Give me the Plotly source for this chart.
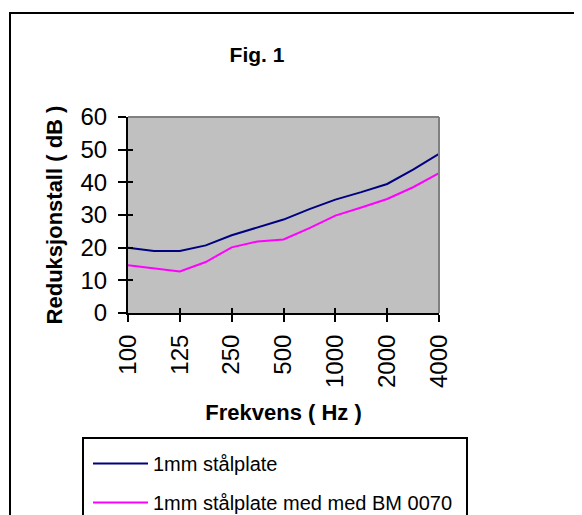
import plotly.graph_objects as go

# categories (13 points, labelled every second one)
freq_labels = ["100", "125", "250", "500", "1000", "2000", "4000"]
point_index = [0, 1, 2, 3, 4, 5, 6, 7, 8, 9, 10, 11, 12]
label_index = [0, 2, 4, 6, 8, 10, 12]

steel = [20, 19, 19, 20.7, 23.8, 26.2, 28.6, 31.8, 34.7, 37, 39.5, 43.9, 48.7]
steel_bm = [14.6, 13.6, 12.7, 15.6, 20.1, 21.9, 22.5, 26, 29.8, 32.3, 34.9, 38.5, 42.8]

y_ticks = [0, 10, 20, 30, 40, 50, 60]

FONT = "Liberation Sans, Arial, sans-serif"

fig = go.Figure()
fig.add_trace(go.Scatter(x=point_index, y=steel, mode="lines", name="1mm stålplate",
                         line=dict(color="#000080", width=2), legendgroup="a"))
fig.add_trace(go.Scatter(x=point_index, y=steel_bm, mode="lines",
                         name="1mm stålplate med med BM 0070",
                         line=dict(color="#FF00FF", width=2), legendgroup="b"))

OFF = 8  # page body margin
W, H = 582, 515
L, R, T, B = 128 - OFF, 439 - OFF, 117 - OFF, 313 - OFF
pw, ph = R - L, B - T

def px(x):
    return (x - OFF - L) / pw

def py(y):
    return (B - (y - OFF)) / ph

fig.update_layout(
    width=W, height=H,
    margin=dict(l=L, r=W - R, t=T, b=H - B, autoexpand=False),
    paper_bgcolor="white",
    plot_bgcolor="#C0C0C0",
    font=dict(family=FONT, color="black"),
    title=dict(text="<b>Fig. 1</b>", x=(257 - OFF) / W, xanchor="center",
               y=1 - (55 - OFF) / H, yanchor="middle",
               font=dict(size=21, family=FONT)),
    showlegend=True,
    legend=dict(x=px(88), y=py(444), xanchor="left", yanchor="top",
                font=dict(size=20, family=FONT), tracegroupgap=10,
                bgcolor="rgba(0,0,0,0)", borderwidth=0, itemwidth=55),
    xaxis=dict(range=[0, 12], tickmode="array", tickvals=label_index, ticktext=freq_labels,
               tickangle=-90, ticks="outside", ticklen=7, tickwidth=2, tickcolor="black",
               showline=True, linecolor="black", linewidth=2, showgrid=False, zeroline=False,
               tickfont=dict(size=24, family=FONT), ticklabelstandoff=3,
               title=dict(text="<b>Frekvens ( Hz )</b>", font=dict(size=22, family=FONT), standoff=18)),
    yaxis=dict(range=[0, 60], tickmode="array", tickvals=y_ticks,
               ticks="outside", ticklen=8, tickwidth=2, tickcolor="black",
               showline=True, linecolor="black", linewidth=2, showgrid=False, zeroline=False,
               tickfont=dict(size=24, family=FONT), ticklabelstandoff=6,
               title=dict(text="<b>Reduksjonstall ( dB )</b>", font=dict(size=22, family=FONT), standoff=12)),
    xaxis2=dict(range=[0, 12], overlaying="x", tickmode="array", tickvals=label_index,
                showticklabels=False, ticks="inside", ticklen=5, tickwidth=2, tickcolor="black",
                showgrid=False, zeroline=False, showline=False),
    yaxis2=dict(range=[0, 60], overlaying="y", tickmode="array", tickvals=y_ticks,
                showticklabels=False, ticks="inside", ticklen=5, tickwidth=2, tickcolor="black",
                showgrid=False, zeroline=False, showline=False),
    shapes=[
        # plot area frame (top/right in grey)
        dict(type="line", xref="paper", yref="paper", x0=0, x1=1, y0=1, y1=1,
             line=dict(color="#808080", width=2)),
        dict(type="line", xref="paper", yref="paper", x0=1, x1=1, y0=0, y1=1,
             line=dict(color="#808080", width=2)),
        # outer chart border
        dict(type="rect", xref="paper", yref="paper", x0=px(10), x1=px(620), y0=py(13), y1=py(560),
             line=dict(color="black", width=2), layer="above"),
        # legend box
        dict(type="rect", xref="paper", yref="paper", x0=px(83), x1=px(467), y0=py(438), y1=py(560),
             line=dict(color="black", width=2), layer="above"),
    ],
)

# invisible trace to activate the overlay axes for inner tick marks
fig.add_trace(go.Scatter(x=[0], y=[0], xaxis="x2", yaxis="y2", mode="markers",
                         marker=dict(opacity=0), showlegend=False, hoverinfo="skip"))

fig.write_html("out.html")
